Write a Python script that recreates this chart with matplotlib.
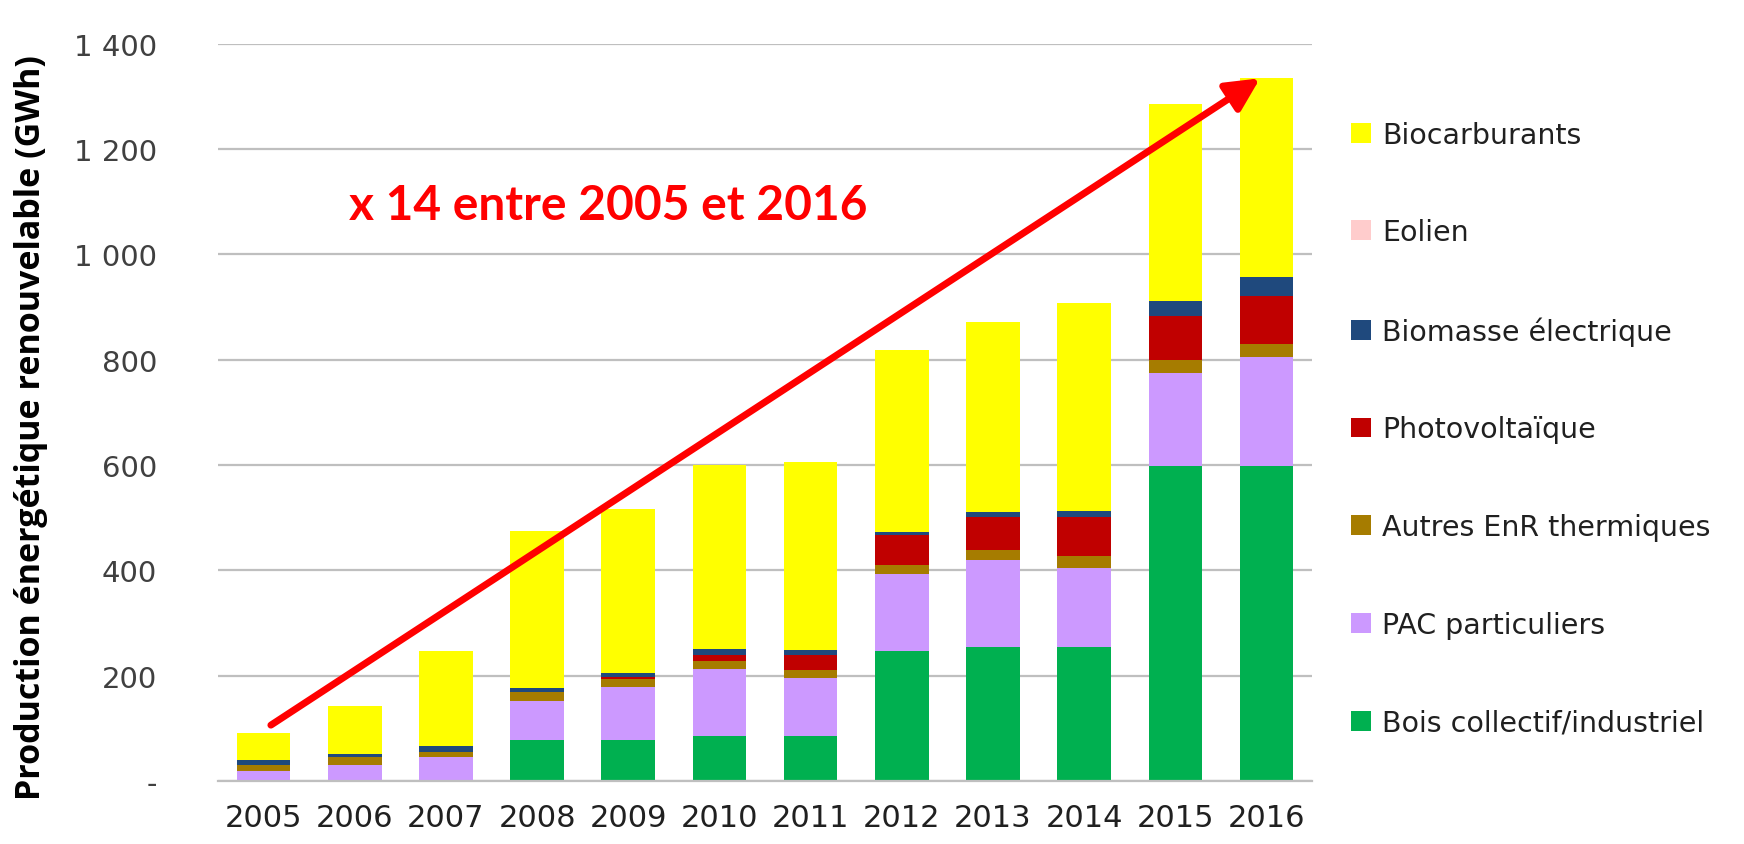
import numpy as np
import matplotlib
matplotlib.use("Agg")
import matplotlib.pyplot as plt
from matplotlib.patches import Patch

years = ["2005", "2006", "2007", "2008", "2009", "2010", "2011", "2012", "2013", "2014", "2015", "2016"]

# GWh par filiere (empilement du bas vers le haut)
bois = [0, 0, 0, 78, 78, 86, 86, 247, 255, 255, 598, 598]
pac = [18, 31, 45, 74, 100, 127, 110, 146, 164, 150, 177, 206]
autres = [13, 14, 10, 17, 16, 15, 14, 17, 20, 23, 25, 26]
photo = [0, 0, 0, 0, 4, 11, 30, 57, 62, 73, 82, 90]
biomasse = [9, 6, 12, 8, 7, 12, 9, 5, 9, 12, 29, 37]
eolien = [0, 0, 0, 0, 0, 0, 0, 0, 0, 0, 0, 0]
biocarb = [51, 92, 180, 298, 311, 349, 356, 347, 361, 395, 374, 377]

series = [
    ("Bois collectif/industriel", bois, "#00B050"),
    ("PAC particuliers", pac, "#CC99FF"),
    ("Autres EnR thermiques", autres, "#A67C00"),
    ("Photovoltaïque", photo, "#C00000"),
    ("Biomasse électrique", biomasse, "#1F497D"),
    ("Eolien", eolien, "#FFCCCC"),
    ("Biocarburants", biocarb, "#FFFF00"),
]

yticks = [0, 200, 400, 600, 800, 1000, 1200, 1400]
ytick_labels = ["-", "200", "400", "600", "800", "1 000", "1 200", "1 400"]

font = "DejaVu Sans"

fig = plt.figure(figsize=(17.44, 8.45), dpi=100)
ax = fig.add_axes([0.125, 0.0746, 0.6273, 0.8727])

x = np.arange(len(years))
bottom = np.zeros(len(years))
handles = []
for name, vals, col in series:
    ax.bar(x, vals, 0.587, bottom=bottom, color=col, zorder=2)
    bottom += np.array(vals)
    handles.append(Patch(facecolor=col, label=name))

ax.set_xlim(-0.5, len(years) - 0.5)
ax.set_ylim(0, 1400)
ax.set_yticks(yticks)
ax.set_yticklabels(ytick_labels, fontfamily=font, fontsize=21, color="#404040")
ax.set_xticks(x)
ax.set_xticklabels(years, fontfamily=font, fontsize=22, color="#202020")
ax.tick_params(axis="y", length=0, pad=44)
ax.tick_params(axis="x", length=0, pad=16)
ax.grid(axis="y", color="#BFBFBF", linewidth=1.6, zorder=0)
for s in ["top", "right", "left"]:
    ax.spines[s].set_visible(False)
ax.spines["bottom"].set_color("#BFBFBF")
ax.spines["bottom"].set_linewidth(1.6)

ax.set_ylabel("Production énergétique renouvelable (GWh)", fontfamily="Open Sans",
              fontweight="bold", fontsize=24.5)
ax.yaxis.set_label_coords(-0.155, 0.48)

ax.text(0.94, 1093, "x 14 entre 2005 et 2016", color="#FF0000", fontfamily="Lato",
        fontweight="bold", fontsize=34.5, va="center", ha="left")

ax.annotate("", xy=(10.93, 1334), xytext=(0.08, 106),
            arrowprops=dict(arrowstyle="-|>,head_length=1.0,head_width=0.5",
                            color="#FF0000", lw=5, mutation_scale=20,
                            shrinkA=0, shrinkB=0),
            annotation_clip=False, zorder=5)

leg = fig.legend(handles=handles[::-1], loc="center left",
                 bbox_to_anchor=(0.7747, 0.4915), frameon=False,
                 prop={"family": font, "size": 20.5}, handlelength=0.7,
                 handleheight=0.7, handletextpad=0.4, labelspacing=2.45,
                 borderpad=0, borderaxespad=0)
for t in leg.get_texts():
    t.set_color("#202020")

fig.savefig("out.png", dpi=100)
